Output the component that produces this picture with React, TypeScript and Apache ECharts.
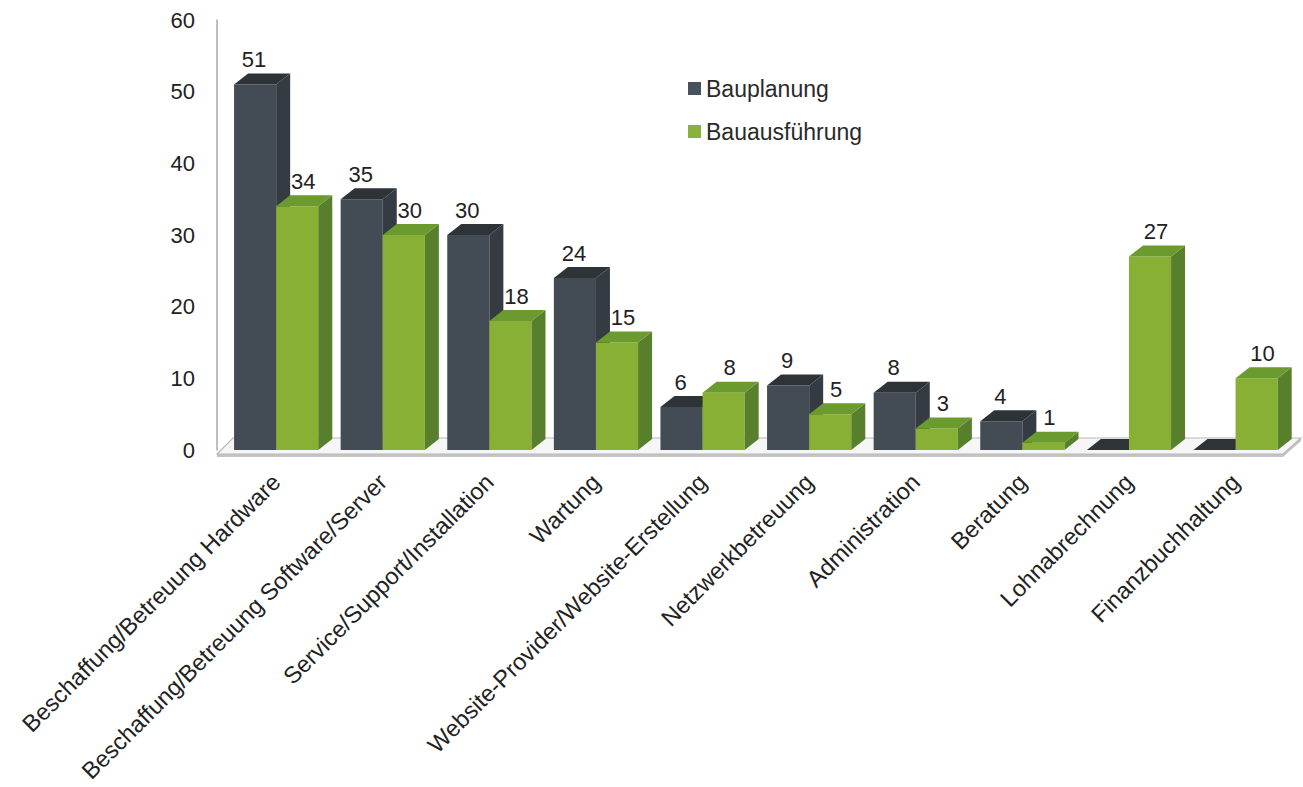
import React, { useEffect, useRef } from "react";
import * as echarts from "echarts";

const categories = [
  "Beschaffung/Betreuung Hardware",
  "Beschaffung/Betreuung Software/Server",
  "Service/Support/Installation",
  "Wartung",
  "Website-Provider/Website-Erstellung",
  "Netzwerkbetreuung",
  "Administration",
  "Beratung",
  "Lohnabrechnung",
  "Finanzbuchhaltung",
];
const bauplanung = [51, 35, 30, 24, 6, 9, 8, 4, 0, 0];
const bauausfuehrung = [34, 30, 18, 15, 8, 5, 3, 1, 27, 10];
const seriesNames = ["Bauplanung", "Bauausführung"];

const FONT = "Liberation Sans";
const DX = 14;
const DY = -11;

const darkColors = { front: "#434c55", side: "#353b42", top: "#2e3338", legend: "#47525c" };
const greenColors = { front: "#88b034", side: "#587f2b", top: "#6b9a2e", legend: "#8ab23a" };

function barRenderer(leftFrac: number, widthFrac: number, colors: any, labelDx: number) {
  return (params: any, api: any) => {
    const i = api.value(0);
    const v = api.value(1);
    const base = api.coord([i, 0]);
    const top = api.coord([i, v]);
    const bw = api.size([1, 0])[0];
    const x0 = base[0] + leftFrac * bw;
    const w = widthFrac * bw;
    const yb = base[1];
    const yt = top[1];
    const children: any[] = [];
    if (yb - yt > 0.5) {
      children.push({
        type: "rect",
        shape: { x: x0, y: yt, width: w, height: yb - yt },
        style: { fill: colors.front },
      });
      children.push({
        type: "polygon",
        shape: {
          points: [
            [x0 + w, yt],
            [x0 + w + DX, yt + DY],
            [x0 + w + DX, yb + DY],
            [x0 + w, yb],
          ],
        },
        style: { fill: colors.side },
      });
    }
    children.push({
      type: "polygon",
      shape: {
        points: [
          [x0, yt],
          [x0 + DX, yt + DY],
          [x0 + w + DX, yt + DY],
          [x0 + w, yt],
        ],
      },
      style: { fill: colors.top },
    });
    if (v > 0) {
      children.push({
        type: "text",
        style: {
          text: String(v),
          x: x0 + w / 2 + labelDx,
          y: yt + DY - 3,
          align: "center",
          verticalAlign: "bottom",
          fontSize: 22,
          fontFamily: FONT,
          fill: "#222",
        },
      });
    }
    return { type: "group", children };
  };
}

function labelRenderer(params: any, api: any) {
  const i = api.value(0);
  const base = api.coord([i, 0]);
  return {
    type: "text",
    x: base[0] + 6,
    y: base[1] + 28,
    rotation: Math.PI / 4,
    style: {
      text: categories[i],
      x: 0,
      y: 0,
      align: "right",
      verticalAlign: "middle",
      fontSize: 23.5,
      fontFamily: FONT,
      fill: "#222",
    },
  };
}

function floorRenderer(params: any, api: any) {
  const cs = params.coordSys;
  const gx = cs.x;
  const gw = cs.width;
  const yb = cs.y + cs.height;
  return {
    type: "group",
    children: [
      {
        type: "polygon",
        shape: {
          points: [
            [gx, yb + 4],
            [gx + gw, yb + 4],
            [gx + gw, yb + 7],
            [gx, yb + 7],
          ],
        },
        style: { fill: "#c4c4c4" },
      },
      {
        type: "polygon",
        shape: {
          points: [
            [gx + gw, yb + 4],
            [gx + gw + 18, yb - 12],
            [gx + gw + 18, yb - 9],
            [gx + gw, yb + 7],
          ],
        },
        style: { fill: "#c4c4c4" },
      },
      {
        type: "polygon",
        shape: {
          points: [
            [gx, yb + 4],
            [gx + gw, yb + 4],
            [gx + gw + 18, yb - 12],
            [gx + 16, yb - 12],
          ],
        },
        style: { fill: "#f6f6f6", stroke: "#b8b8b8", lineWidth: 1.2 },
      },
    ],
  };
}

export default function App() {
  const ref = useRef<HTMLDivElement>(null);
  useEffect(() => {
    if (!ref.current) return;
    const chart = echarts.init(ref.current, undefined, { renderer: "svg" });
    chart.setOption({
      animation: false,
      backgroundColor: "#ffffff",
      grid: { left: 217, right: 20, top: 20, bottom: 337, containLabel: false },
      legend: {
        orient: "vertical",
        left: 683,
        top: 72,
        itemWidth: 13,
        itemHeight: 13,
        itemGap: 20,
        icon: "rect",
        textStyle: { fontSize: 23, fontFamily: FONT, color: "#2a2a2a" },
        data: [
          { name: seriesNames[0], itemStyle: { color: darkColors.legend } },
          { name: seriesNames[1], itemStyle: { color: greenColors.legend } },
        ],
      },
      xAxis: {
        type: "category",
        data: categories,
        axisLine: { show: false },
        axisTick: { show: false },
        splitLine: { show: false },
        axisLabel: { show: false },
      },
      yAxis: {
        type: "value",
        min: 0,
        max: 60,
        interval: 10,
        axisLine: { show: true, lineStyle: { color: "#aaaaaa", width: 1.5 } },
        axisTick: { show: false },
        splitLine: { show: false },
        axisLabel: { fontSize: 22, fontFamily: FONT, color: "#222", margin: 22 },
      },
      series: [
        {
          type: "custom",
          name: "floor",
          silent: true,
          z: 1,
          data: [[0, 0]],
          renderItem: floorRenderer,
        },
        {
          type: "custom",
          name: "xlabels",
          silent: true,
          z: 1,
          data: categories.map((c, i) => [i, 0]),
          renderItem: labelRenderer,
        },
        {
          type: "custom",
          name: seriesNames[0],
          z: 2,
          itemStyle: { color: darkColors.legend },
          data: bauplanung.map((v, i) => [i, v]),
          renderItem: barRenderer(-0.34, 0.395, darkColors, -1),
        },
        {
          type: "custom",
          name: seriesNames[1],
          z: 3,
          itemStyle: { color: greenColors.legend },
          data: bauausfuehrung.map((v, i) => [i, v]),
          renderItem: barRenderer(0.055, 0.395, greenColors, 6),
        },
      ],
    });
    return () => chart.dispose();
  }, []);
  return (
    <div
      ref={ref}
      style={{ position: "fixed", left: 0, top: 0, width: 1303, height: 787 }}
    />
  );
}
